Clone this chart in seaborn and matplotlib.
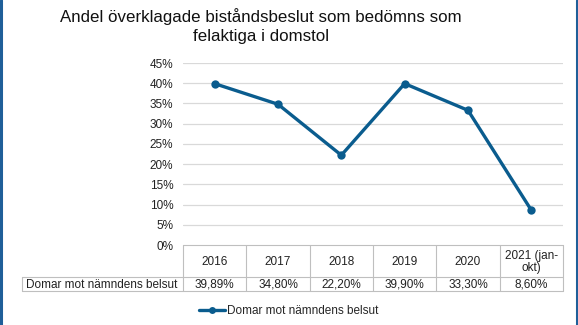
import matplotlib
matplotlib.use("Agg")
import matplotlib.pyplot as plt
import matplotlib.transforms as mtransforms
from matplotlib.lines import Line2D
import seaborn as sns
import pandas as pd

categories = ["2016", "2017", "2018", "2019", "2020", "2021 (jan-\nokt)"]
values = [0.3989, 0.348, 0.222, 0.399, 0.333, 0.086]
value_labels = ["39,89%", "34,80%", "22,20%", "39,90%", "33,30%", "8,60%"]
series_name = "Domar mot nämndens belsut"
title = "Andel överklagade biståndsbeslut som bedömns som\nfelaktiga i domstol"
yticks = [0, 0.05, 0.10, 0.15, 0.20, 0.25, 0.30, 0.35, 0.40, 0.45]

sns.set_theme(style="white")
plt.rcParams["font.family"] = ["Liberation Sans", "DejaVu Sans"]

W, H = 578, 325
fig = plt.figure(figsize=(W / 100, H / 100), dpi=100)
L, R, T, B = 183, 563, 63, 245
ax = fig.add_axes([L / W, 1 - B / H, (R - L) / W, (B - T) / H])

df = pd.DataFrame({"pos": list(range(len(categories))), "val": values, "s": series_name})
color = "#0a5c8e"
sns.lineplot(data=df, x="pos", y="val", ax=ax, color=color, linewidth=2.4,
             marker="o", markersize=6, markeredgewidth=0, legend=False)

ax.set_xlim(-0.5, len(categories) - 0.5)
ax.set_ylim(0, 0.45)
ax.set_yticks(yticks)
ax.set_yticklabels([f"{int(round(t*100))}%" for t in yticks], fontsize=8.5, color="#222222")
ax.tick_params(axis="y", length=0, pad=7)
ax.set_xticks([])
ax.set_xlabel("")
ax.set_ylabel("")
for s in ax.spines.values():
    s.set_visible(False)
for t in yticks[1:]:
    ax.axhline(t, color="#d9d9d9", linewidth=0.9, zorder=0)

fig.text(261 / W, 1 - 26 / H, title, ha="center", va="center", fontsize=12.2, color="#111111",
         linespacing=1.3)

# data table below the plot
tr = mtransforms.blended_transform_factory(ax.transData, fig.transFigure)
def fy(p):
    return 1 - p / H
def fx(p):
    return p / W
lc = "#bfbfbf"
lw = 0.8
n = len(categories)
y_top, y_mid, y_bot = 245, 277, 291
for i in range(n + 1):
    x = i - 0.5
    ax.plot([x, x], [fy(y_top), fy(y_bot)], transform=tr, color=lc, lw=lw, clip_on=False)
for yy in (y_top,):
    ax.plot([-0.5, n - 0.5], [fy(yy), fy(yy)], transform=tr, color=lc, lw=lw, clip_on=False)
for yy in (y_mid, y_bot):
    fig.add_artist(Line2D([fx(22), fx(R)], [fy(yy), fy(yy)], color=lc, lw=lw))
fig.add_artist(Line2D([fx(22), fx(22)], [fy(y_mid), fy(y_bot)], color=lc, lw=lw))

for i, (c, v) in enumerate(zip(categories, value_labels)):
    ax.text(i, fy((y_top + y_mid) / 2 + 1), c, transform=tr, ha="center", va="center",
            fontsize=8.5, color="#222222", linespacing=1.0)
    ax.text(i, fy((y_mid + y_bot) / 2 + 0.5), v, transform=tr, ha="center", va="center",
            fontsize=8.5, color="#222222")
fig.text(fx(26), fy((y_mid + y_bot) / 2 + 0.5), series_name, ha="left", va="center",
         fontsize=8.5, color="#222222")

# legend
handle = Line2D([], [], color=color, linewidth=2.4, marker="o", markersize=5, markeredgewidth=0)
fig.legend([handle], [series_name], loc="center", bbox_to_anchor=(0.5, fy(311)), frameon=False,
           fontsize=8.5, handlelength=2.2, handletextpad=0.2, borderaxespad=0)

# chart frame (blue sides)
fig.add_artist(Line2D([0.002, 0.002], [0, 1], color="#1f5f99", lw=2.2))
fig.add_artist(Line2D([1 - 0.002, 1 - 0.002], [0, 1], color="#1f5f99", lw=2.2))

fig.savefig("out.png", dpi=100)
